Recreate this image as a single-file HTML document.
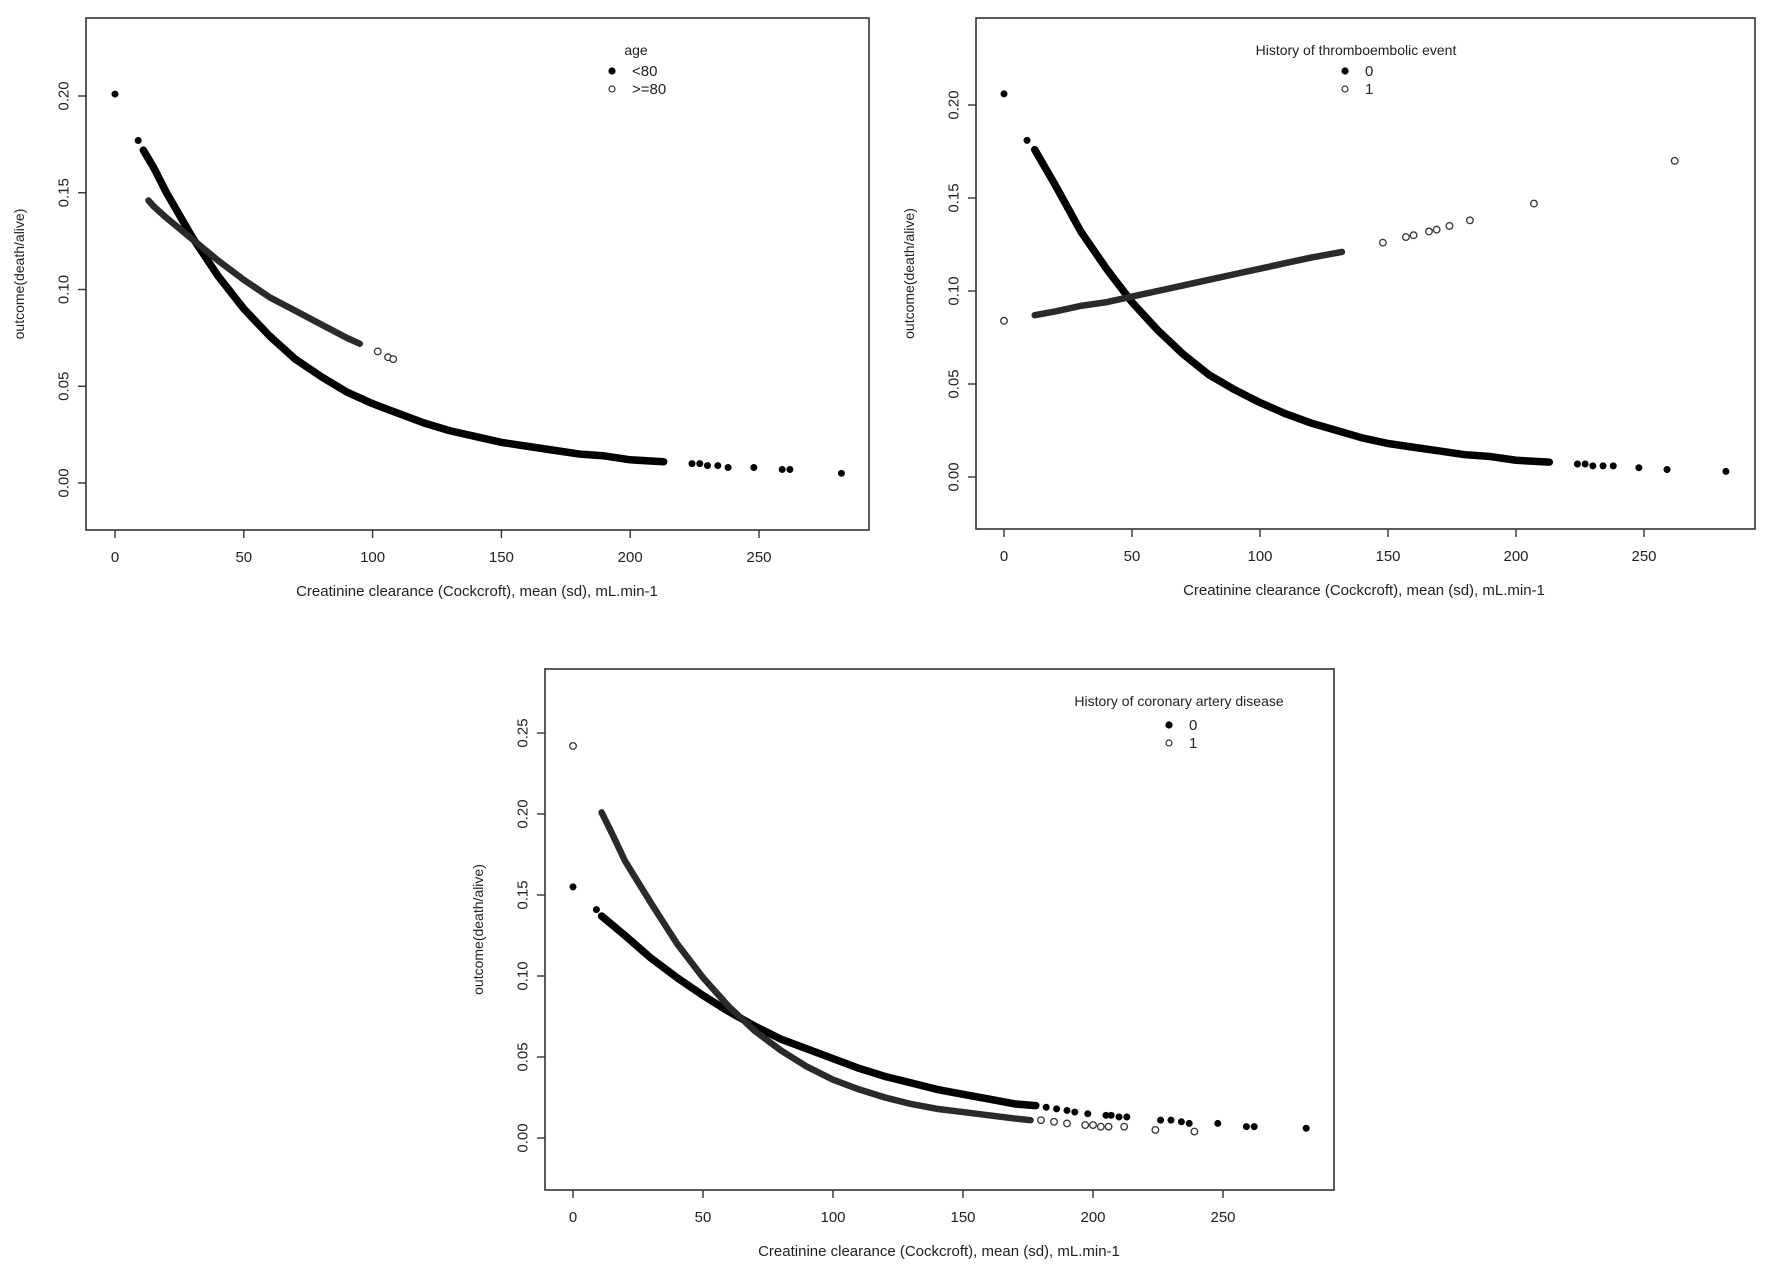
<!DOCTYPE html>
<html><head><meta charset="utf-8"><style>
html,body{margin:0;padding:0;background:#fff;}
svg{display:block;font-family:"Liberation Sans",Arial,sans-serif;}
</style></head><body>
<svg id="fig" width="1772" height="1279" viewBox="0 0 1772 1279" xmlns="http://www.w3.org/2000/svg"></svg>
<script>
// ---- Panel 1: age ----
const p1LowX = [0,9,11,15,20,30,40,50,60,70,80,90,100,110,120,130,140,150,160,170,180,190,200,213,224,227,230,234,238,248,259,262,282];
const p1LowY = [0.201,0.177,0.172,0.163,0.150,0.127,0.107,0.090,0.076,0.064,0.055,0.047,0.041,0.036,0.031,0.027,0.024,0.021,0.019,0.017,0.015,0.014,0.012,0.011,0.010,0.010,0.009,0.009,0.008,0.008,0.007,0.007,0.005];
const p1HighX = [13,15,20,30,40,50,60,70,80,90,95,102,106,108];
const p1HighY = [0.146,0.143,0.137,0.126,0.115,0.105,0.096,0.089,0.082,0.075,0.072,0.068,0.065,0.064];
// ---- Panel 2: thromboembolic ----
const p2ZeroX = [0,9,12,20,30,40,50,60,70,80,90,100,110,120,130,140,150,160,170,180,190,200,213,224,227,230,234,238,248,259,282];
const p2ZeroY = [0.206,0.181,0.176,0.157,0.132,0.112,0.094,0.079,0.066,0.055,0.047,0.040,0.034,0.029,0.025,0.021,0.018,0.016,0.014,0.012,0.011,0.009,0.008,0.007,0.007,0.006,0.006,0.006,0.005,0.004,0.003];
const p2OneX = [0,12,20,30,40,50,60,70,80,90,100,110,120,132,148,157,160,166,169,174,182,207,262];
const p2OneY = [0.084,0.087,0.089,0.092,0.094,0.097,0.100,0.103,0.106,0.109,0.112,0.115,0.118,0.121,0.126,0.129,0.130,0.132,0.133,0.135,0.138,0.147,0.170];
// ---- Panel 3: coronary ----
const p3ZeroX = [0,9,11,20,30,40,50,60,70,80,90,100,110,120,130,140,150,160,170,178,182,186,190,193,198,205,207,210,213,226,230,234,237,248,259,262,282];
const p3ZeroY = [0.155,0.141,0.137,0.125,0.111,0.099,0.088,0.078,0.069,0.061,0.055,0.049,0.043,0.038,0.034,0.030,0.027,0.024,0.021,0.020,0.019,0.018,0.017,0.016,0.015,0.014,0.014,0.013,0.013,0.011,0.011,0.010,0.009,0.009,0.007,0.007,0.006];
const p3OneX = [0,11,15,20,30,40,50,60,70,80,90,100,110,120,130,140,150,160,170,176,180,185,190,197,200,203,206,212,224,239];
const p3OneY = [0.242,0.201,0.188,0.171,0.145,0.120,0.099,0.081,0.066,0.054,0.044,0.036,0.030,0.025,0.021,0.018,0.016,0.014,0.012,0.011,0.011,0.010,0.009,0.008,0.008,0.007,0.007,0.007,0.005,0.004];
const xTicks = [0,50,100,150,200,250];
const yTicks12 = [0.00,0.05,0.10,0.15,0.20];
const yTicks3 = [0.00,0.05,0.10,0.15,0.20,0.25];

const NS="http://www.w3.org/2000/svg";
const svg=document.getElementById('fig');
function mk(tag,attrs,parent){const e=document.createElementNS(NS,tag);for(const k in attrs)e.setAttribute(k,attrs[k]);(parent||svg).appendChild(e);return e;}

function panel(cfg){
  const g=mk('g',{});
  
  
  const sx=v=>cfg.x0px+(v-0)*(cfg.x250px-cfg.x0px)/250;
  const sy=v=>cfg.y0px-(v)*(cfg.y0px-cfg.yTopTickPx)/cfg.yTopTickVal;
  const box=mk('rect',{x:cfg.L,y:cfg.T,width:cfg.R-cfg.L,height:cfg.B-cfg.T,fill:'none',stroke:'#333','stroke-width':1.6},g);
  
  
  xTicks.forEach(t=>{
    const x=sx(t);
    mk('line',{x1:x,x2:x,y1:cfg.B,y2:cfg.B+8,stroke:'#333','stroke-width':1.4},g);
    const tx=mk('text',{x:x,y:cfg.B+32,'text-anchor':'middle','font-size':15,fill:'#222'},g);
    tx.textContent=String(t);
    
    
  });
  cfg.yTicks.forEach(t=>{
    const y=sy(t);
    mk('line',{x1:cfg.L-8,x2:cfg.L,y1:y,y2:y,stroke:'#333','stroke-width':1.4},g);
    const lx=cfg.L-22;
    const tx=mk('text',{x:lx,y:y,'text-anchor':'middle','font-size':15,fill:'#222',transform:`rotate(-90 ${lx} ${y})`,'dominant-baseline':'central'},g);
    tx.textContent=t.toFixed(2);
    
    
  });
  const xt=mk('text',{x:cfg.xTitleX,y:cfg.B+66,'text-anchor':'middle','font-size':15,fill:'#222'},g);
  xt.textContent='Creatinine clearance (Cockcroft), mean (sd), mL.min-1';
  
  
  const yx=cfg.L-62, yy=(cfg.T+cfg.B)/2;
  const yt=mk('text',{x:yx,y:yy,'text-anchor':'middle','font-size':14,fill:'#222',transform:`rotate(-90 ${yx} ${yy})`},g);
  yt.textContent='outcome(death/alive)';
  
  
  cfg.series.forEach(s=>{
    const sg=mk('g',{},g);
    
    
    const inDense=xv=>xv>=s.d0 && xv<=s.d1;
    let pts=[];
    s.xs.forEach((xv,i)=>{ if(inDense(xv)) pts.push(sx(xv)+','+sy(s.ys[i])); });
    if(pts.length>1){
      const pl=mk('polyline',{points:pts.join(' '),fill:'none',stroke:s.open?'#2a2a2a':'#000','stroke-width':s.open?6.5:7.5,'stroke-linecap':'round','stroke-linejoin':'round'},sg);
      
      
    }
    s.xs.forEach((xv,i)=>{
      if(inDense(xv)) return;
      const c=mk('circle',{cx:sx(xv),cy:sy(s.ys[i]),r:s.open?3.3:3.2,fill:s.open?'#fff':'#000',stroke:s.open?'#333':'#000','stroke-width':s.open?1.3:0.6},sg);
      
      
    });
  });
  const lg=mk('g',{},g);
  
  
  const lt=mk('text',{x:cfg.leg.tx,y:cfg.leg.ty,'text-anchor':'middle','font-size':14,fill:'#222'},lg);
  lt.textContent=cfg.leg.title;
  cfg.series.forEach((s,i)=>{
    const yy2=cfg.leg.y1+i*18;
    mk('circle',{cx:cfg.leg.mx,cy:yy2,r:3,fill:s.open?'#fff':'#000',stroke:s.open?'#333':'#000','stroke-width':1.2},lg);
    const t=mk('text',{x:cfg.leg.mx+20,y:yy2+5,'font-size':15,fill:'#222'},lg);
    t.textContent=s.label;
    
    
  });
}

panel({name:'panel-age',L:86,R:869,T:18,B:530,x0px:115,x250px:759,y0px:483,yTopTickPx:96,yTopTickVal:0.20,yTicks:yTicks12,xTitleX:477,
  leg:{title:'age',tx:636,ty:55,mx:612,y1:71},
  series:[{name:'series-under-80',label:'<80',open:false,xs:p1LowX,ys:p1LowY,d0:11,d1:213},{name:'series-80-plus',label:'>=80',open:true,xs:p1HighX,ys:p1HighY,d0:13,d1:95}]});
panel({name:'panel-thromboembolic',L:976,R:1755,T:18,B:529,x0px:1004,x250px:1644,y0px:477,yTopTickPx:105,yTopTickVal:0.20,yTicks:yTicks12,xTitleX:1364,
  leg:{title:'History of thromboembolic event',tx:1356,ty:55,mx:1345,y1:71},
  series:[{name:'series-no-event',label:'0',open:false,xs:p2ZeroX,ys:p2ZeroY,d0:12,d1:213},{name:'series-event',label:'1',open:true,xs:p2OneX,ys:p2OneY,d0:12,d1:132}]});
panel({name:'panel-coronary',L:545,R:1334,T:669,B:1190,x0px:573,x250px:1223,y0px:1138,yTopTickPx:733,yTopTickVal:0.25,yTicks:yTicks3,xTitleX:939,
  leg:{title:'History of coronary artery disease',tx:1179,ty:706,mx:1169,y1:725},
  series:[{name:'series-no-cad',label:'0',open:false,xs:p3ZeroX,ys:p3ZeroY,d0:11,d1:178},{name:'series-cad',label:'1',open:true,xs:p3OneX,ys:p3OneY,d0:11,d1:176}]});
</script>
</body></html>
